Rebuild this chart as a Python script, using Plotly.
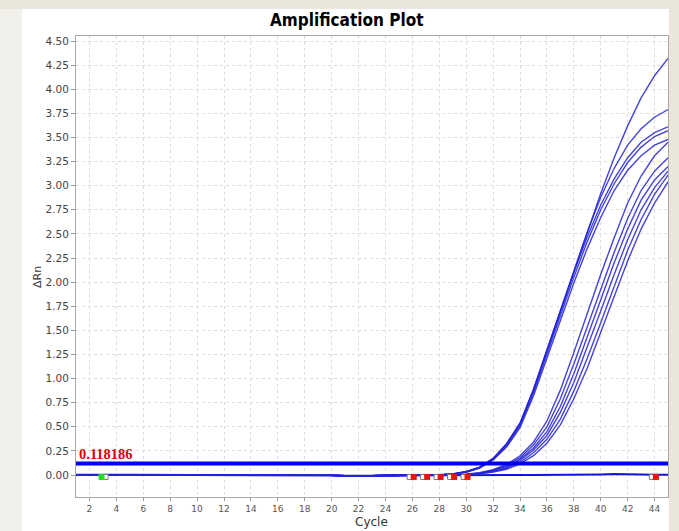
import plotly.graph_objects as go

# ---------------- data ----------------
cycles = list(range(1, 46))

# shared pre-amplification baseline, cycles 1..25
baseline_c1_25 = [0.004, 0.006, 0.005, 0.004, 0.003, 0.003, 0.002, 0.001, 0.0, 0.0,
                  -0.001, 0.0, 0.0, -0.001, 0.0, 0.0, 0.0, -0.001, -0.002, -0.004,
                  -0.007, -0.009, -0.008, -0.005, -0.004]

# each well, cycles 26..45
well_A1 = [-0.004, -0.002, 0.003, 0.012, 0.035, 0.08, 0.17, 0.32, 0.53, 0.88,
           1.29, 1.71, 2.12, 2.52, 2.92, 3.29, 3.62, 3.91, 4.14, 4.32]
well_A2 = [-0.005, -0.003, 0.002, 0.011, 0.036, 0.082, 0.172, 0.325, 0.54, 0.89,
           1.30, 1.72, 2.13, 2.52, 2.88, 3.18, 3.42, 3.59, 3.71, 3.79]
well_A3 = [-0.006, -0.004, 0.001, 0.010, 0.034, 0.08, 0.17, 0.32, 0.53, 0.88,
           1.29, 1.70, 2.10, 2.47, 2.80, 3.07, 3.29, 3.45, 3.55, 3.61]
well_A4 = [-0.006, -0.005, 0.0, 0.009, 0.031, 0.075, 0.16, 0.30, 0.51, 0.85,
           1.25, 1.66, 2.05, 2.42, 2.75, 3.02, 3.24, 3.40, 3.51, 3.57]
well_A5 = [-0.007, -0.005, 0.0, 0.008, 0.029, 0.071, 0.155, 0.29, 0.49, 0.82,
           1.21, 1.61, 1.99, 2.35, 2.67, 2.95, 3.16, 3.31, 3.42, 3.48]
well_B1 = [-0.006, -0.005, -0.002, 0.002, 0.008, 0.025, 0.055, 0.11, 0.20, 0.34,
           0.56, 0.88, 1.27, 1.68, 2.08, 2.46, 2.82, 3.10, 3.31, 3.45]
well_B2 = [-0.006, -0.005, -0.003, 0.001, 0.007, 0.022, 0.05, 0.10, 0.18, 0.31,
           0.50, 0.79, 1.15, 1.54, 1.93, 2.31, 2.66, 2.95, 3.15, 3.29]
well_B3 = [-0.007, -0.006, -0.003, 0.0, 0.006, 0.02, 0.045, 0.09, 0.165, 0.28,
           0.45, 0.71, 1.05, 1.43, 1.82, 2.20, 2.55, 2.85, 3.06, 3.20]
well_B4 = [-0.007, -0.006, -0.004, 0.0, 0.005, 0.017, 0.04, 0.08, 0.15, 0.26,
           0.41, 0.65, 0.96, 1.32, 1.70, 2.08, 2.44, 2.75, 2.98, 3.15]
well_B5 = [-0.008, -0.007, -0.004, -0.001, 0.004, 0.015, 0.035, 0.07, 0.13, 0.23,
           0.37, 0.58, 0.87, 1.21, 1.58, 1.96, 2.33, 2.65, 2.91, 3.11]
well_B6 = [-0.008, -0.007, -0.005, -0.002, 0.003, 0.013, 0.03, 0.06, 0.115, 0.20,
           0.33, 0.52, 0.79, 1.11, 1.47, 1.85, 2.22, 2.55, 2.82, 3.04]
well_ntc = [0.0, 0.0, 0.0, 0.0, 0.0, 0.0, 0.0, 0.0, 0.0, 0.0,
            0.0, 0.0, 0.0, 0.002, 0.006, 0.010, 0.010, 0.008, 0.004, 0.002]

threshold = 0.118186

# baseline start / end markers
start_marker_cycles = [2.9]
start_hollow_cycles = [3.2]
end_marker_cycles = [26.1, 27.1, 28.1, 29.1, 30.1, 44.1]
end_hollow_cycles = [25.8, 26.8, 27.8, 28.8, 29.8, 43.8]
marker_level = -0.02

wells = [well_A1, well_A2, well_A3, well_A4, well_A5,
         well_B1, well_B2, well_B3, well_B4, well_B5, well_B6]

# ---------------- figure ----------------
fig = go.Figure()

# NTC / flat trace
fig.add_trace(go.Scatter(x=cycles, y=baseline_c1_25 + well_ntc, mode="lines",
                         line=dict(color="rgb(20,20,220)", width=2),
                         hoverinfo="skip", showlegend=False))

for w in wells:
    fig.add_trace(go.Scatter(x=cycles, y=baseline_c1_25 + w, mode="lines",
                             line=dict(color="rgba(35,35,215,0.85)", width=1.4),
                             hoverinfo="skip", showlegend=False))

# threshold line
fig.add_trace(go.Scatter(x=[cycles[0], cycles[-1]], y=[threshold, threshold], mode="lines",
                         line=dict(color="rgb(0,0,235)", width=4),
                         hoverinfo="skip", showlegend=False))

# markers
fig.add_trace(go.Scatter(x=start_hollow_cycles + end_hollow_cycles,
                         y=[marker_level] * (len(start_hollow_cycles) + len(end_hollow_cycles)),
                         mode="markers",
                         marker=dict(symbol="square", size=5, color="white",
                                     line=dict(color="#777777", width=1)),
                         hoverinfo="skip", showlegend=False))
fig.add_trace(go.Scatter(x=start_marker_cycles, y=[marker_level] * len(start_marker_cycles),
                         mode="markers",
                         marker=dict(symbol="square", size=6, color="#22DD22",
                                     line=dict(width=0)),
                         hoverinfo="skip", showlegend=False))
fig.add_trace(go.Scatter(x=end_marker_cycles, y=[marker_level] * len(end_marker_cycles),
                         mode="markers",
                         marker=dict(symbol="square", size=6, color="#EE1111",
                                     line=dict(width=0)),
                         hoverinfo="skip", showlegend=False))

L, R, T, B = 76, 11, 36, 34
W, H = 679, 531
pw, ph = W - L - R, H - T - B


def px_x(p):
    return (p - L) / pw


def px_y(p):
    return (H - B - p) / ph


fig.update_layout(
    width=W, height=H, autosize=False,
    margin=dict(l=L, r=R, t=T, b=B, pad=0),
    paper_bgcolor="#EAE6DB",
    plot_bgcolor="white",
    showlegend=False,
    font=dict(family="DejaVu Sans", color="#333333"),
    shapes=[
        dict(type="rect", xref="paper", yref="paper", layer="below",
             x0=px_x(0), x1=px_x(22), y0=px_y(540), y1=px_y(9),
             fillcolor="#F2F0EA", line=dict(width=0)),
        dict(type="rect", xref="paper", yref="paper", layer="below",
             x0=px_x(22), x1=px_x(669), y0=px_y(540), y1=px_y(9),
             fillcolor="white", line=dict(width=0)),
    ],
    xaxis=dict(range=[1, 45], tick0=0, dtick=2, showline=True, mirror=True,
               linecolor="#A8A8A8", linewidth=1, showgrid=True, gridcolor="#DDDDDD",
               griddash="3px,3px", gridwidth=1, zeroline=False, ticks="outside",
               ticklen=3, tickcolor="#999999",
               tickfont=dict(size=9, color="#555555", family="DejaVu Sans")),
    yaxis=dict(range=[-0.228, 4.552], tick0=0, dtick=0.25, tickformat=".2f",
               showline=True, mirror=True, linecolor="#A8A8A8", linewidth=1,
               showgrid=True, gridcolor="#DDDDDD", griddash="3px,3px", gridwidth=1,
               zeroline=False, ticks="outside", ticklen=4, tickcolor="#999999",
               tickfont=dict(size=10.5, color="#444444", family="DejaVu Sans")),
    annotations=[
        dict(text="<b>Amplification Plot</b>", xref="paper", yref="paper",
             x=px_x(346.5), y=px_y(20), xanchor="center", yanchor="middle",
             showarrow=False,
             font=dict(size=17, color="black", family="DejaVu Sans Condensed")),
        dict(text="ΔRn", xref="paper", yref="paper", x=px_x(37), y=px_y(277),
             xanchor="center", yanchor="middle", textangle=-90, showarrow=False,
             font=dict(size=11, color="#333333", family="DejaVu Sans")),
        dict(text="Cycle", xref="paper", yref="paper", x=px_x(371), y=px_y(522),
             xanchor="center", yanchor="middle", showarrow=False,
             font=dict(size=12, color="#333333", family="DejaVu Sans")),
        dict(text="<b>%s</b>" % threshold, xref="x", yref="y", x=cycles[0], y=threshold,
             xanchor="left", yanchor="bottom", yshift=0, xshift=1, showarrow=False,
             font=dict(size=14.5, color="#DD0000", family="Liberation Serif")),
    ],
)

fig.write_html("out.html")
